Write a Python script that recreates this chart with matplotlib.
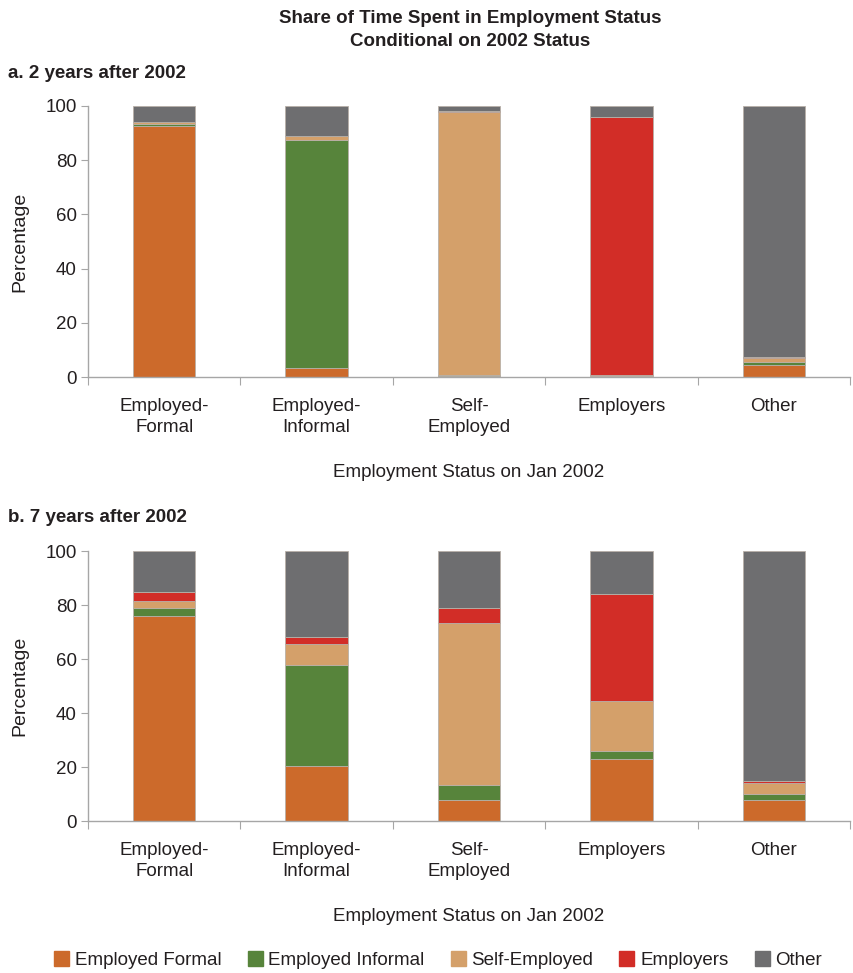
import matplotlib
matplotlib.use("Agg")
import matplotlib.pyplot as plt
from matplotlib import font_manager
import matplotlib.patches as mpatches
import numpy as np

names = {f.name for f in font_manager.fontManager.ttflist}
fam = "Liberation Sans Narrow" if "Liberation Sans Narrow" in names else "Liberation Sans"
plt.rcParams['font.family'] = [fam, 'DejaVu Sans']

categories = ["Employed-\nFormal", "Employed-\nInformal", "Self-\nEmployed", "Employers", "Other"]
series = ["Employed Formal", "Employed Informal", "Self-Employed", "Employers", "Other"]
colors = ["#CC6A2B", "#57843B", "#D4A06A", "#D22D27", "#6E6E70"]

# Panel a: 2 years after 2002 (each list: one series across origin categories)
a_formal   = [92.8, 3.3, 0.5, 0.4, 4.4]
a_informal = [0.5, 84.2, 0.3, 0.1, 1.3]
a_self     = [0.7, 1.4, 97.1, 0.2, 1.3]
a_employer = [0.2, 0.2, 0.2, 95.4, 0.2]
a_other    = [5.8, 10.9, 1.9, 3.9, 92.8]

# Panel b: 7 years after 2002
b_formal   = [75.8, 20.5, 7.6, 22.9, 7.6]
b_informal = [3.1, 37.3, 5.8, 3.1, 2.5]
b_self     = [2.7, 7.8, 59.8, 18.6, 4.1]
b_employer = [3.1, 2.6, 5.8, 39.6, 0.6]
b_other    = [15.3, 31.8, 21.0, 15.8, 85.2]

panel_a = [a_formal, a_informal, a_self, a_employer, a_other]
panel_b = [b_formal, b_informal, b_self, b_employer, b_other]

fig = plt.figure(figsize=(8.54, 9.73), dpi=100)
W, H = 854, 973

def make_axes(bottom_px, top_px):
    return fig.add_axes([88 / W, (H - bottom_px) / H, (850 - 88) / W, (bottom_px - top_px) / H])

spine_c = "#A6A6A6"
text_c = "#231F20"

def draw(ax, data):
    x = np.arange(len(categories))
    bottom = np.zeros(len(categories))
    for vals, c, name in zip(data, colors, series):
        ax.bar(x, vals, bottom=bottom, width=0.41, color=c, edgecolor="#B8B0A8",
               linewidth=0.6, label=name)
        bottom += np.array(vals)
    ax.set_xlim(-0.5, len(categories) - 0.5)
    ax.set_ylim(0, 100)
    ax.set_yticks([0, 20, 40, 60, 80, 100])
    ax.set_xticks(np.arange(len(categories) + 1) - 0.5)
    ax.set_xticklabels([])
    ax.set_xticks(x, minor=True)
    ax.set_xticklabels(categories, minor=True, fontsize=13.5, color=text_c, linespacing=1.35)
    ax.tick_params(axis='x', which='minor', length=0, pad=15)
    ax.tick_params(axis='x', which='major', length=6, color=spine_c, direction='out')
    ax.tick_params(axis='y', length=5, color=spine_c, labelsize=13.5, labelcolor=text_c, pad=3)
    for s in ["top", "right"]:
        ax.spines[s].set_visible(False)
    for s in ["left", "bottom"]:
        ax.spines[s].set_color(spine_c)
        ax.spines[s].set_linewidth(1.0)
    ax.set_ylabel("Percentage", fontsize=14, color=text_c, labelpad=12)
    ax.set_xlabel("Employment Status on Jan 2002", fontsize=13.5, color=text_c, labelpad=20)

ax1 = make_axes(377, 106)
draw(ax1, panel_a)
ax2 = make_axes(821, 551)
draw(ax2, panel_b)

fig.text(470 / W, 1 - 30 / H, "Share of Time Spent in Employment Status\nConditional on 2002 Status",
         ha="center", va="center", fontsize=13.5, fontweight="bold", color=text_c, linespacing=1.4)
fig.text(8 / W, 1 - 73 / H, "a. 2 years after 2002", ha="left", va="center",
         fontsize=13.5, fontweight="bold", color=text_c)
fig.text(8 / W, 1 - 518 / H, "b. 7 years after 2002", ha="left", va="center",
         fontsize=13.5, fontweight="bold", color=text_c)

handles = [mpatches.Patch(color=c) for c in colors]
fig.legend(handles, series, loc="center", bbox_to_anchor=(438 / W, 1 - 960 / H), ncol=5,
           frameon=False, fontsize=13.5, handlelength=0.8, handleheight=0.8,
           handletextpad=0.3, columnspacing=1.4, labelcolor=text_c)

fig.savefig("out.png", dpi=100)
